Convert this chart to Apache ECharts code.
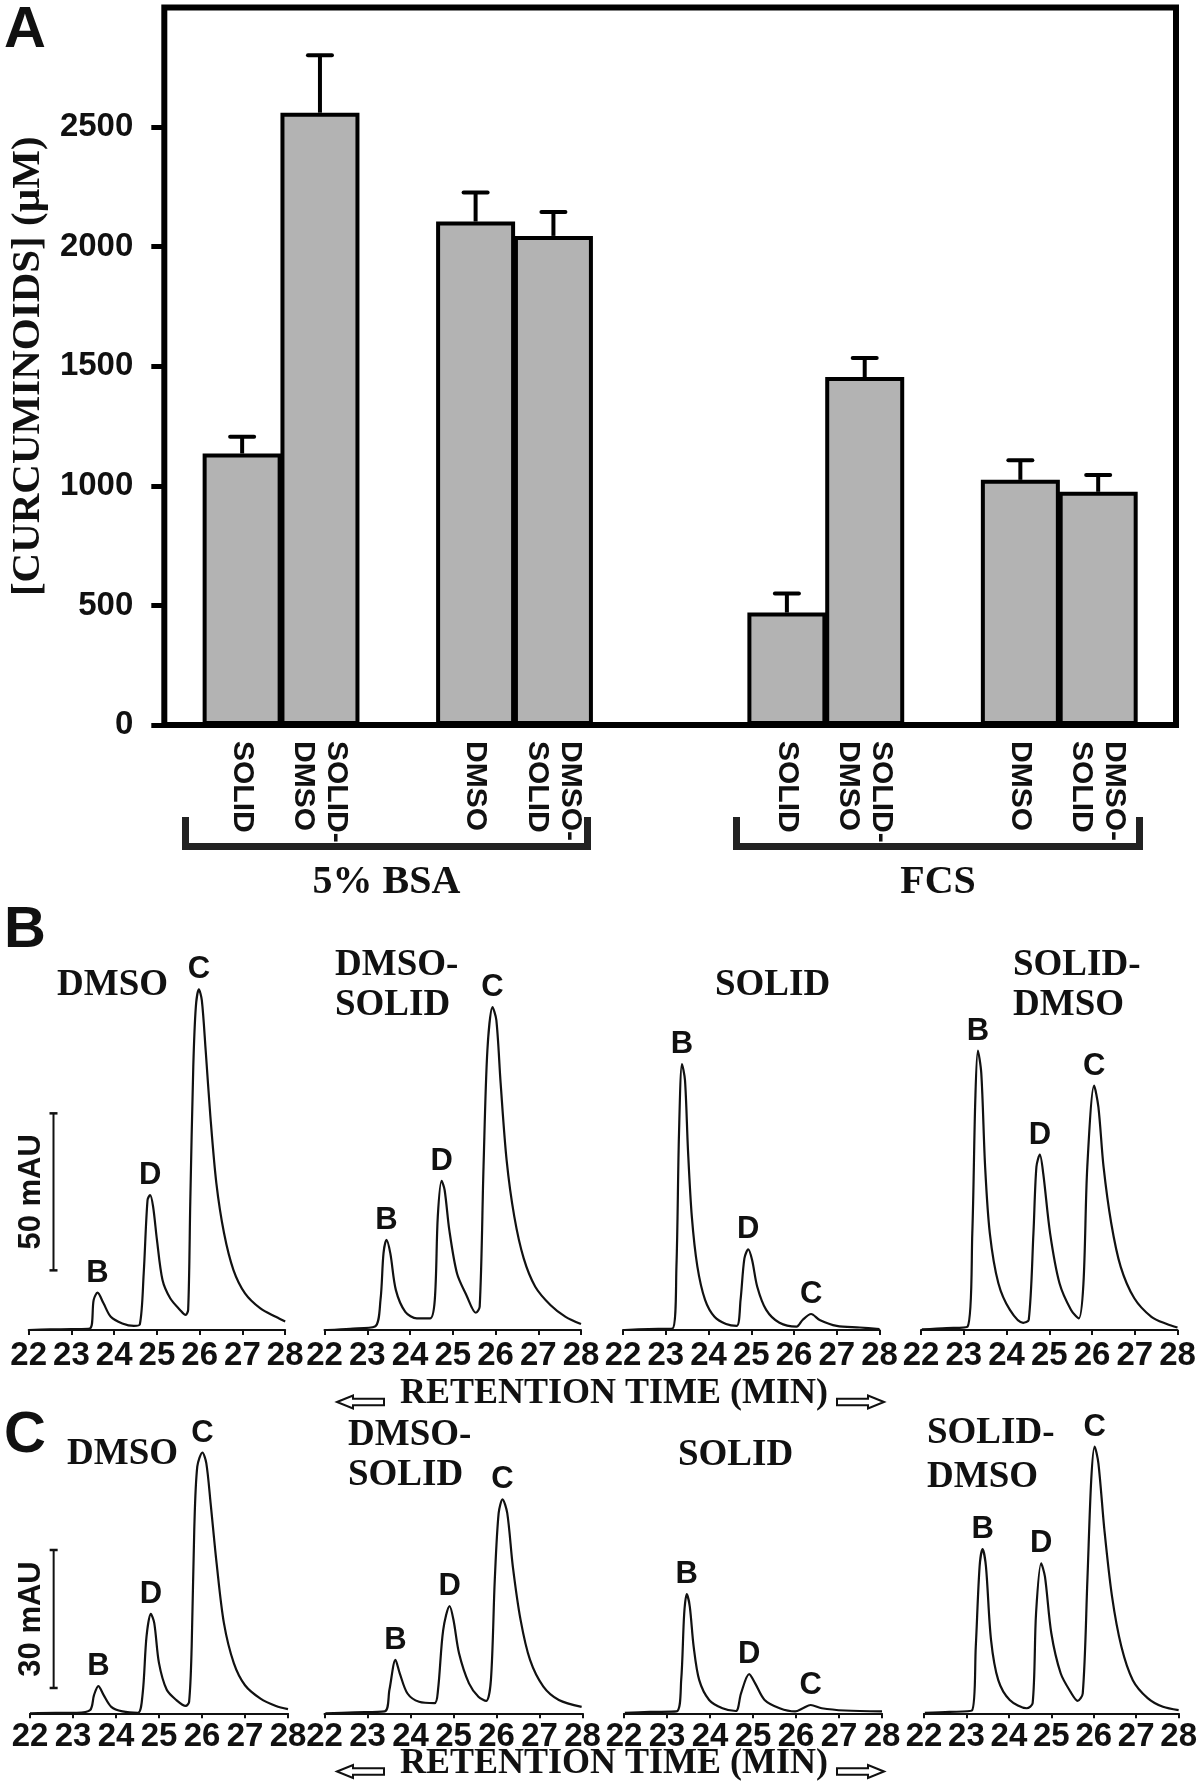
<!DOCTYPE html>
<html><head><meta charset="utf-8">
<script src="https://cdn.jsdelivr.net/npm/echarts@6/dist/echarts.min.js"></script>
<style>html,body{margin:0;padding:0;background:#fff}#c{width:1200px;height:1790px}</style>
</head><body><div id="c"></div>
<script>
// ---------- Panel A data ----------
const treatments = ['SOLID', 'SOLID-\nDMSO', 'DMSO', 'DMSO-\nSOLID'];
const groupNames = ['5% BSA', 'FCS'];
const bsaMean = [1135, 2560, 2105, 2045];
const bsaErr  = [70, 240, 122, 100];
const fcsMean = [470, 1455, 1025, 975];
const fcsErr  = [80, 80, 82, 70];
const concTicks = [0, 500, 1000, 1500, 2000, 2500];

// ---------- Panels B / C data (retention time min, absorbance mAU) ----------
const rtTicks = [22, 23, 24, 25, 26, 27, 28];
const traceTitles = ['DMSO', 'DMSO-\nSOLID', 'SOLID', 'SOLID-\nDMSO'];

const bDMSO = [[22.00,0],[22.50,0.2],[23.00,0.3],[23.43,0.5],[23.52,9.6],[23.61,11.9],[23.75,8.5],[23.92,4.2],[24.19,2.1],[24.46,1.3],[24.60,1.8],[24.69,18.0],[24.78,41.4],[24.84,43.0],[24.91,39.3],[25.00,28.7],[25.13,15.9],[25.31,10.1],[25.54,6.4],[25.67,4.8],[25.73,6.4],[25.78,41.0],[25.85,83.9],[25.91,103.0],[25.98,108.5],[26.05,105.0],[26.14,89.0],[26.25,68.0],[26.39,46.7],[26.57,30.8],[26.79,19.1],[27.06,11.7],[27.42,6.9],[27.78,4.2],[28.00,2.7]];
const bDMSOSolid = [[22.06,0],[22.60,0.4],[23.18,1.1],[23.31,9.6],[23.38,24.4],[23.45,28.7],[23.54,24.4],[23.67,12.7],[23.89,5.8],[24.16,3.7],[24.47,3.7],[24.58,9.6],[24.65,36.1],[24.74,47.5],[24.81,44.6],[24.92,31.8],[25.10,18.0],[25.32,11.1],[25.54,5.5],[25.63,7.4],[25.72,52.0],[25.81,89.0],[25.93,102.8],[26.02,98.7],[26.12,78.6],[26.26,54.1],[26.44,36.1],[26.66,22.8],[26.93,13.8],[27.29,7.9],[27.64,4.2],[28.00,1.9]];
const bSolid = [[22.04,0],[22.60,0.3],[23.16,0.5],[23.25,20.2],[23.31,62.6],[23.38,84.7],[23.45,79.6],[23.52,57.3],[23.61,36.1],[23.74,20.2],[23.92,9.6],[24.14,4.2],[24.41,1.9],[24.66,1.3],[24.75,9.6],[24.84,22.8],[24.93,25.7],[25.02,22.3],[25.14,13.8],[25.35,6.4],[25.66,2.3],[26.06,1.1],[26.20,3.2],[26.40,5.1],[26.60,3.2],[27.00,1.3],[27.54,0.8],[28.00,0.3]];
const bSolidDMSO = [[22.02,0.2],[22.60,0.6],[23.09,1.1],[23.20,30.8],[23.27,73.2],[23.33,89.0],[23.41,81.8],[23.50,52.0],[23.61,30.8],[23.81,14.9],[24.08,6.4],[24.39,2.3],[24.52,3.2],[24.63,30.8],[24.70,52.0],[24.78,55.9],[24.86,49.8],[25.02,30.8],[25.24,14.9],[25.51,6.4],[25.69,3.7],[25.80,14.9],[25.89,52.0],[26.05,77.8],[26.15,71.0],[26.27,52.0],[26.45,34.0],[26.67,20.2],[26.99,10.1],[27.39,4.2],[27.75,1.9],[28.00,0.8]];

const cDMSO = [[22.00,0],[22.60,0.1],[23.09,0.1],[23.40,0.7],[23.49,4.0],[23.59,5.9],[23.71,4.0],[23.89,1.4],[24.15,0.4],[24.51,0.1],[24.62,4.3],[24.71,16.7],[24.81,21.6],[24.89,19.6],[25.00,10.9],[25.18,5.1],[25.40,2.9],[25.62,1.6],[25.70,2.5],[25.76,14.5],[25.82,39.9],[25.89,53.6],[26.01,56.7],[26.10,54.4],[26.20,45.7],[26.34,32.6],[26.51,19.6],[26.74,10.9],[27.00,6.1],[27.36,3.2],[27.72,1.6],[28.00,0.9]];
const cDMSOSolid = [[22.02,0],[22.70,0.2],[23.40,0.4],[23.51,5.1],[23.65,11.6],[23.75,8.7],[23.93,4.3],[24.20,2.5],[24.56,2.2],[24.64,5.1],[24.76,18.1],[24.91,23.3],[25.00,20.3],[25.13,13.0],[25.36,6.5],[25.58,3.6],[25.76,2.7],[25.87,7.2],[25.96,29.0],[26.05,43.5],[26.14,46.5],[26.25,43.5],[26.38,31.9],[26.56,20.3],[26.78,11.6],[27.09,5.8],[27.45,2.9],[27.98,1.4]];
const cSolid = [[22.02,0.1],[22.60,0.3],[23.22,0.4],[23.33,7.2],[23.40,21.7],[23.46,25.9],[23.53,23.2],[23.62,14.5],[23.75,7.2],[23.98,2.9],[24.29,1.1],[24.60,0.5],[24.72,4.3],[24.91,8.5],[25.05,6.5],[25.27,2.9],[25.62,1.1],[25.98,0.4],[26.16,1.1],[26.34,1.8],[26.60,1.1],[27.14,0.6],[28.00,0.4]];
const cSolidDMSO = [[22.02,0.1],[22.60,0.3],[23.13,0.6],[23.22,14.5],[23.31,31.9],[23.38,35.7],[23.46,31.9],[23.58,15.9],[23.75,7.2],[24.02,2.9],[24.42,1.1],[24.56,2.2],[24.64,21.7],[24.76,32.6],[24.85,29.7],[25.00,17.4],[25.22,8.7],[25.45,4.7],[25.62,2.7],[25.74,4.3],[25.85,29.0],[25.94,50.7],[26.02,58.0],[26.11,54.3],[26.25,39.9],[26.43,25.4],[26.65,14.5],[26.92,7.2],[27.27,3.3],[27.63,1.4],[28.00,0.7]];

// peak identities (label, retention time of apex)
const peaksBDMSO = [['B',23.61],['D',24.84],['C',25.98]];
const peaksBDMSOSolid = [['B',23.45],['D',24.74],['C',25.93]];
const peaksBSolid = [['B',23.38],['D',24.93],['C',26.40]];
const peaksBSolidDMSO = [['B',23.33],['D',24.78],['C',26.05]];
const peaksCDMSO = [['B',23.59],['D',24.81],['C',26.01]];
const peaksCDMSOSolid = [['B',23.65],['D',24.91],['C',26.14]];
const peaksCSolid = [['B',23.46],['D',24.91],['C',26.34]];
const peaksCSolidDMSO = [['B',23.38],['D',24.76],['C',26.02]];

// scale bars: [rt, from mAU, to mAU]
const scaleBarB = [[22.58, 19, 69]];
const scaleBarC = [[22.55, 5.5, 35.5]];
const scaleTextB = '50 mAU';
const scaleTextC = '30 mAU';

// ---------- build ----------
const SANS = '"Liberation Sans", Arial, Helvetica, sans-serif';
const SERIF = '"Liberation Serif", "Times New Roman", serif';
const INK = '#111';

const slotPattern = [null, 0, 1, null, 2, 3, null];
const slots = [];
const barData = [];
const errData = [];
[[bsaMean, bsaErr], [fcsMean, fcsErr]].forEach(([m, e]) => {
  slotPattern.forEach(k => {
    const idx = slots.length;
    if (k === null) { slots.push(''); barData.push(null); }
    else { slots.push(treatments[k]); barData.push(m[k]); errData.push([idx, m[k], e[k]]); }
  });
});

const chart = echarts.init(document.getElementById('c'), null, {renderer: 'canvas'});

const grids = [{left: 152, top: 7.5, width: 1024, height: 717.5, show: true, borderWidth: 6, borderColor: '#000', backgroundColor: 'transparent'}];
const xAxes = [{
  gridIndex: 0, type: 'category', data: slots, boundaryGap: false,
  axisLine: {show: false}, axisTick: {show: false},
  axisLabel: {interval: 0, rotate: -90, margin: 16, color: INK, fontFamily: SANS, fontWeight: 'bold', fontSize: 30, lineHeight: 33}
}];
const yAxes = [{
  gridIndex: 0, type: 'value', min: 0, max: 3000, interval: 500,
  axisLine: {show: false},
  axisTick: {show: true, length: 13, lineStyle: {width: 5, color: '#000'}, customValues: concTicks},
  axisLabel: {margin: 31, color: INK, fontFamily: SANS, fontWeight: 'bold', fontSize: 33, customValues: concTicks,
              formatter: v => String(v)},
  splitLine: {show: false},
  name: '[CURCUMINOIDS] (\u00b5M)', nameLocation: 'middle', nameRotate: 90, nameGap: 104,
  nameTextStyle: {fontFamily: SERIF, fontWeight: 'bold', fontSize: 41, color: INK}
}];

const series = [
  {type: 'bar', xAxisIndex: 0, yAxisIndex: 0, data: barData, barWidth: 79,
   itemStyle: {color: '#b3b3b3', borderColor: '#000', borderWidth: 4}, silent: true},
  {type: 'custom', xAxisIndex: 0, yAxisIndex: 0, data: errData, z: 5, silent: true,
   renderItem: (params, api) => {
     const p0 = api.coord([api.value(0), api.value(1)]);
     const p1 = api.coord([api.value(0), api.value(1) + api.value(2)]);
     return {type: 'group', children: [
       {type: 'line', shape: {x1: p0[0], y1: p0[1], x2: p1[0], y2: p1[1]}, style: {stroke: '#000', lineWidth: 4}},
       {type: 'line', shape: {x1: p1[0] - 12, y1: p1[1], x2: p1[0] + 12, y2: p1[1]}, style: {stroke: '#000', lineWidth: 4, lineCap: 'round'}}
     ]};
   }}
];

function chromGrid(left, top, width, height, ymin, ymax, margin) {
  const gi = grids.length;
  grids.push({left, top, width, height});
  xAxes.push({gridIndex: gi, type: 'value', min: 22, max: 28, interval: 1,
    axisLine: {show: true, lineStyle: {color: INK, width: 2}},
    axisTick: {show: true, length: 5, lineStyle: {color: INK, width: 2}},
    axisLabel: {margin, color: INK, fontFamily: SANS, fontWeight: 'bold', fontSize: 33, customValues: rtTicks},
    splitLine: {show: false}});
  yAxes.push({gridIndex: gi, type: 'value', min: ymin, max: ymax, show: false, splitLine: {show: false}});
  return gi;
}
function chromSeries(gi, data, peaks) {
  const marks = peaks.map(([name, t]) => {
    const pt = data.reduce((a, b) => Math.abs(b[0] - t) < Math.abs(a[0] - t) ? b : a);
    return {name, value: name, coord: [pt[0], pt[1]]};
  });
  series.push({type: 'line', xAxisIndex: gi, yAxisIndex: gi, data, showSymbol: false, symbol: 'none',
    smooth: 0.3, lineStyle: {color: INK, width: 2.2, join: 'round'}, silent: true,
    markPoint: {symbol: 'circle', symbolSize: 2, itemStyle: {color: 'rgba(0,0,0,0)'}, silent: true, data: marks,
      label: {show: true, position: 'top', distance: 3, formatter: p => p.name, color: INK, fontFamily: SANS, fontWeight: 'bold', fontSize: 31}}});
}
function scaleSeries(gi, data, text) {
  series.push({type: 'custom', xAxisIndex: gi, yAxisIndex: gi, data, silent: true,
    renderItem: (params, api) => {
      const p0 = api.coord([api.value(0), api.value(1)]);
      const p1 = api.coord([api.value(0), api.value(2)]);
      const x = p0[0];
      return {type: 'group', children: [
        {type: 'line', shape: {x1: x, y1: p0[1], x2: x, y2: p1[1]}, style: {stroke: INK, lineWidth: 2}},
        {type: 'line', shape: {x1: x - 4, y1: p0[1], x2: x + 4, y2: p0[1]}, style: {stroke: INK, lineWidth: 2.5}},
        {type: 'line', shape: {x1: x - 4, y1: p1[1], x2: x + 4, y2: p1[1]}, style: {stroke: INK, lineWidth: 2.5}},
        {type: 'text', x: x - 22, y: (p0[1] + p1[1]) / 2, rotation: Math.PI / 2,
         style: {text, fill: INK, font: 'bold 31px ' + SANS, align: 'center', verticalAlign: 'middle'}}
      ]};
    }});
}

const bLefts = [28.7, 324.5, 623, 921];
const bTraces = [[bDMSO, peaksBDMSO], [bDMSOSolid, peaksBDMSOSolid], [bSolid, peaksBSolid], [bSolidDMSO, peaksBSolidDMSO]];
const bGrids = bLefts.map((l, i) => {
  const gi = chromGrid(l, 953.2, 256.5, 380.8, -1.27, 120, 5);
  chromSeries(gi, bTraces[i][0], bTraces[i][1]);
  return gi;
});
scaleSeries(bGrids[0], scaleBarB, scaleTextB);

const cLefts = [30, 324.5, 624, 924];
const cTraces = [[cDMSO, peaksCDMSO], [cDMSOSolid, peaksCDMSOSolid], [cSolid, peaksCSolid], [cSolidDMSO, peaksCSolidDMSO]];
const cGrids = cLefts.map((l, i) => {
  const gi = chromGrid(l, 1437.3, 258, 281, -1.09, 60, 2);
  chromSeries(gi, cTraces[i][0], cTraces[i][1]);
  return gi;
});
scaleSeries(cGrids[0], scaleBarC, scaleTextC);

const graphic = [];
function txt(text, x, y, font, align, lineHeight) {
  graphic.push({type: 'text', x, y, silent: true,
    style: {text, font, fill: INK, align: align || 'left', verticalAlign: 'middle', lineHeight: lineHeight || undefined}});
}
txt('A', 4, 31, 'bold 58px ' + SANS);
txt('B', 4, 931, 'bold 58px ' + SANS);
txt('C', 4, 1436, 'bold 58px ' + SANS);

function bracket(x0, x1) {
  graphic.push({type: 'polyline', silent: true,
    shape: {points: [[x0, 817], [x0, 846.5], [x1, 846.5], [x1, 817]]},
    style: {stroke: '#222', lineWidth: 7, fill: null, lineJoin: 'miter'}});
}
bracket(185.5, 587.5);
bracket(736.5, 1139.5);
txt(groupNames[0], 386.5, 883, 'bold 40px ' + SERIF, 'center');
txt(groupNames[1], 938, 883, 'bold 40px ' + SERIF, 'center');

const titleFont = 'bold 37px ' + SERIF;
[[57, 985, 40], [335, 985, 40], [715, 985, 40], [1013, 985, 40]].forEach((p, i) => txt(traceTitles[i], p[0], p[1], titleFont, 'left', p[2]));
[[67, 1454, 40], [348, 1455, 40], [678, 1455.5, 40], [927, 1455, 44]].forEach((p, i) => txt(traceTitles[i], p[0], p[1], titleFont, 'left', p[2]));

function rtTitle(cyText, cyArrow) {
  txt('RETENTION TIME (MIN)', 614, cyText, 'bold 36px ' + SERIF, 'center');
  const L = [[337, 0], [353, -6.5], [353, -3.2], [384, -3.2], [384, 3.2], [353, 3.2], [353, 6.5]];
  graphic.push({type: 'polygon', silent: true, shape: {points: L.map(p => [p[0], cyArrow + p[1]])}, style: {fill: '#fff', stroke: INK, lineWidth: 2}});
  graphic.push({type: 'polygon', silent: true, shape: {points: L.map(p => [1221 - p[0], cyArrow + p[1]])}, style: {fill: '#fff', stroke: INK, lineWidth: 2}});
}
rtTitle(1394, 1402);
rtTitle(1764, 1771.5);

chart.setOption({
  animation: false,
  backgroundColor: '#fff',
  grid: grids, xAxis: xAxes, yAxis: yAxes, series, graphic
});
</script></body></html>
